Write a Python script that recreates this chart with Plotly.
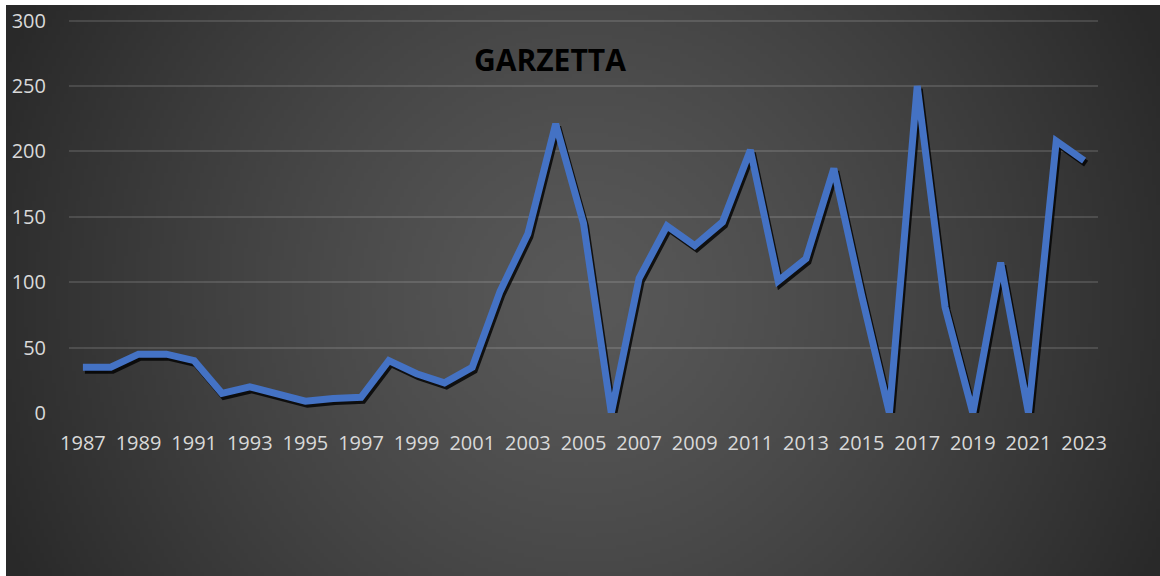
import base64
import struct
import zlib

import plotly.graph_objects as go

years = list(range(1987, 2024))
counts = [35, 35, 45, 45, 40, 15, 20, 14, 9, 11, 12, 40, 30, 23, 35, 93, 137, 221, 145, 0,
          103, 143, 128, 146, 201, 101, 118, 187, 90, 0, 250, 81, 0, 115, 0, 208, 193]
title_text = "GARZETTA"

W, H = 1160, 576
left, right, top, bottom = 69, 62, 18, 163
panel_x0, panel_y0 = 6, 5


def radial_png(w, h, scale):
    # dark radial gradient, lighter in the middle
    cx, cy = 577 / scale, 295 / scale
    rows = b""
    for j in range(h):
        row = bytearray([0])
        for i in range(w):
            d = ((i - cx) ** 2 + (j - cy) ** 2) ** 0.5 * scale
            t = min(1.0, d / 630)
            c = int(round(88 - 47 * t ** 1.3))
            row.append(c)
        rows += bytes(row)

    def chunk(tag, data):
        c = struct.pack(">I", len(data)) + tag + data
        return c + struct.pack(">I", zlib.crc32(tag + data) & 0xffffffff)

    png = b"\x89PNG\r\n\x1a\n"
    png += chunk(b"IHDR", struct.pack(">IIBBBBB", w, h, 8, 0, 0, 0, 0))
    png += chunk(b"IDAT", zlib.compress(rows, 9))
    png += chunk(b"IEND", b"")
    return "data:image/png;base64," + base64.b64encode(png).decode()


pw = W - left - right
ph = H - top - bottom
bg = radial_png(290, 146, 4)

x_range = [1986.5, 2023.5]
y_range = [0, 302]
# shadow axes: same scale, shifted ~2px right and ~3px down
sx = 2 * (x_range[1] - x_range[0]) / pw
sy = 3 * (y_range[1] - y_range[0]) / ph

fig = go.Figure()

# base subplot (carries the axes, grid and hover)
fig.add_trace(go.Scatter(
    x=years, y=counts, mode="lines",
    line=dict(color="rgba(0,0,0,0)", width=7),
    showlegend=False
))
fig.add_trace(go.Scatter(
    x=years, y=counts, mode="lines", xaxis="x2", yaxis="y2",
    line=dict(color="rgba(0,0,0,0.8)", width=7),
    hoverinfo="skip", showlegend=False
))
fig.add_trace(go.Scatter(
    x=years, y=counts, mode="lines", xaxis="x3", yaxis="y3",
    line=dict(color="#4472C4", width=7),
    hoverinfo="skip", showlegend=False
))

fig.update_layout(
    width=W, height=H,
    margin=dict(l=left, r=right, t=top, b=bottom),
    paper_bgcolor="white",
    plot_bgcolor="rgba(0,0,0,0)",
    font=dict(family="Open Sans", color="#d9d9d9", size=20),
    xaxis=dict(
        range=x_range, tickmode="array", tickvals=years[::2],
        showgrid=False, zeroline=False, showline=False, automargin=False,
        ticks="", ticklabelstandoff=16,
        tickfont=dict(size=20, color="#d9d9d9"),
    ),
    yaxis=dict(
        range=y_range, tickvals=[0, 50, 100, 150, 200, 250, 300],
        showgrid=True, gridcolor="rgba(255,255,255,0.13)", gridwidth=1.5,
        zeroline=False, showline=False, automargin=False,
        ticks="", ticklabelstandoff=22,
        tickfont=dict(size=20, color="#d9d9d9"),
    ),
    xaxis2=dict(range=[x_range[0] - sx, x_range[1] - sx], overlaying="x",
                visible=False, anchor="y2"),
    yaxis2=dict(range=[y_range[0] + sy, y_range[1] + sy], overlaying="y",
                visible=False, anchor="x2"),
    xaxis3=dict(range=x_range, overlaying="x", visible=False, anchor="y3"),
    yaxis3=dict(range=y_range, overlaying="y", visible=False, anchor="x3"),
    annotations=[dict(
        text="<b>" + title_text + "</b>", xref="paper", yref="paper",
        x=(550 - left) / pw, y=1 - (59 - top) / ph, showarrow=False,
        font=dict(family="Open Sans", size=30, color="black"),
        xanchor="center", yanchor="middle",
    )],
    images=[dict(
        source=bg, xref="paper", yref="paper",
        x=(panel_x0 - left) / pw, y=1 + (top - panel_y0) / ph,
        sizex=(W + 6 - panel_x0) / pw, sizey=(H + 6 - panel_y0) / ph,
        sizing="stretch", layer="below", xanchor="left", yanchor="top",
    )],
)

fig.write_html("out.html", config={"displayModeBar": False},
               post_script="document.body.style.margin='0';")
